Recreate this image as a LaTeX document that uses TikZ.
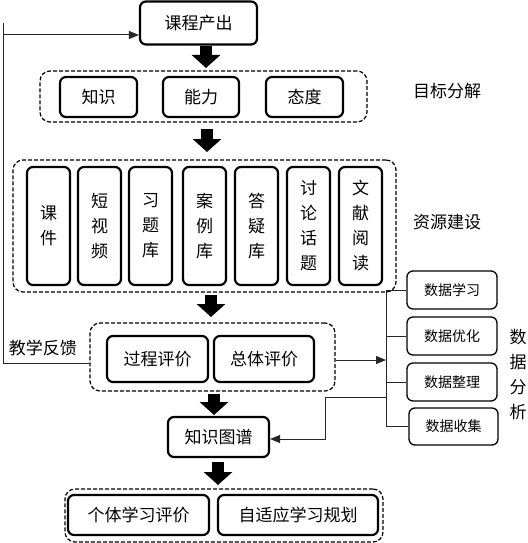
\documentclass[tikz,border=0pt]{standalone}
\usepackage{fontspec}
\newfontfamily\cjk{Noto Sans CJK SC}
\usetikzlibrary{arrows.meta,calc}
\tikzset{
  bx/.style={draw, line width=2.2pt, rounded corners=6pt, inner sep=0pt, align=center,
    font=\cjk\fontsize{17}{25}\selectfont},
  dbox/.style={draw, line width=1.2pt, dash pattern=on 4pt off 2pt, rounded corners=10pt, inner sep=0pt},
  sbox/.style={draw, line width=1.3pt, rounded corners=6pt, inner sep=0pt, minimum width=90pt, minimum height=38pt,
    font=\cjk\fontsize{14}{18}\selectfont},
  lbl/.style={inner sep=0pt, align=center, font=\cjk\fontsize{17}{25}\selectfont},
  conn/.style={line width=1pt, draw=black!85},
  tip/.style={-{Triangle[length=10pt,width=8pt]}},
  blockarr/.style={line width=12pt, -{Triangle[length=13pt,width=28pt]}},
}
\begin{document}
\begin{tikzpicture}[x=1pt,y=-1pt]
\useasboundingbox (0,0) rectangle (527,543);
% top
\node[bx, minimum width=117pt, minimum height=43pt] (top) at (198.5,23) {课程产出};
% goal decomposition
\node[dbox, minimum width=327pt, minimum height=51pt] (d1) at (203.5,96.5) {};
\node[bx, minimum width=77pt, minimum height=40pt] (zs) at (98.5,97) {知识};
\node[bx, minimum width=76pt, minimum height=40pt] (nl) at (201,97) {能力};
\node[bx, minimum width=77pt, minimum height=40pt] (td) at (304.5,97) {态度};
\node[lbl] (mbfj) at (447,91) {目标分解};
% resources
\node[dbox, minimum width=383pt, minimum height=132pt] (d2) at (204.5,226) {};
\foreach \x/\t/\n in {48.5/课\\件/r1, 99.5/短\\视\\频/r2, 150.5/习\\题\\库/r3, 204.5/案\\例\\库/r4,
  256.5/答\\疑\\库/r5, 308.5/讨\\论\\话\\题/r6, 360.5/文\\献\\阅\\读/r7}
  \node[bx, minimum width=43pt, minimum height=118pt] (\n) at (\x,226) {\t};
\node[lbl] (zyjs) at (447,222) {资源建设};
% evaluation
\node[dbox, minimum width=245pt, minimum height=68pt] (d3) at (212.5,357) {};
\node[bx, minimum width=101pt, minimum height=46pt] (gc) at (157.5,359) {过程评价};
\node[bx, minimum width=100pt, minimum height=46pt] (zt) at (264,359) {总体评价};
\node[lbl] (jxfk) at (43,348) {教学反馈};
% data boxes
\node[sbox] (s1) at (452,290) {数据学习};
\node[sbox] (s2) at (452,336) {数据优化};
\node[sbox] (s3) at (452,382) {数据整理};
\node[sbox, minimum width=89pt, minimum height=37pt] (s4) at (453.5,426.5) {数据收集};
\node[lbl] (sjfx) at (518,375) {数\\据\\分\\析};
% knowledge graph
\node[bx, minimum width=101pt, minimum height=40pt] (kg) at (218.5,437) {知识图谱};
% bottom
\node[dbox, minimum width=318pt, minimum height=53pt] (d4) at (224,515.5) {};
\node[bx, minimum width=141pt, minimum height=40pt] (gt) at (138.5,515) {个体学习评价};
\node[bx, minimum width=160pt, minimum height=40pt] (zsy) at (298,515) {自适应学习规划};
% block arrows
\draw[blockarr] (206,46) -- (206,68);
\draw[blockarr] (207,129) -- (207,152);
\draw[blockarr] (211,295) -- (211,317);
\draw[blockarr] (214,394) -- (214,415);
\draw[blockarr] (218,462) -- (218,485);
% feedback
\coordinate (fbx) at (3,0);
\draw[conn, tip] ([yshift=-6pt]d3.west) -| (fbx |- top.west) ++(0,12) -- ([yshift=-12pt]top.west);
% bus
\coordinate (bus) at (386,0);
\draw[conn] (bus |- s1.west) -- (bus |- s4.west);
\foreach \s in {s1,s2,s3,s4} \draw[conn] (bus |- \s.west) -- (\s.west);
\draw[conn, tip] ([yshift=-3pt]d3.east) -- (bus |- 0,360);
\coordinate (rt) at (325,397);
\draw[conn, tip] (bus |- rt) -- (rt) |- ([yshift=-2pt]kg.east);
\end{tikzpicture}
\end{document}
